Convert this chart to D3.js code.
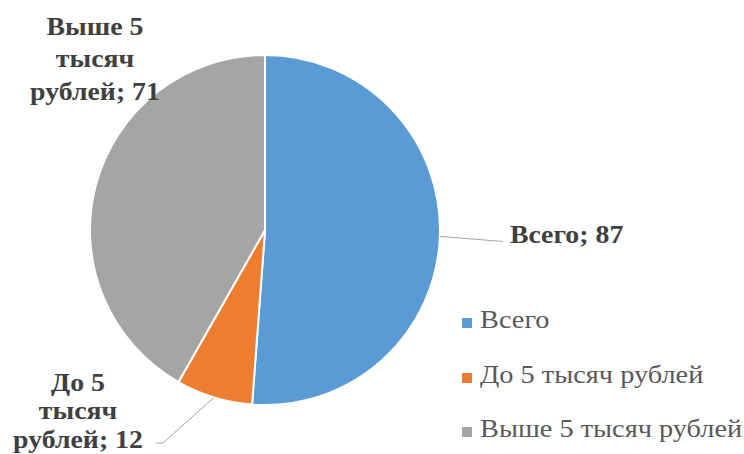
<!DOCTYPE html>
<html><head><meta charset="utf-8">
<script src="https://cdn.jsdelivr.net/npm/d3@7"></script>
<style>body{margin:0;background:#fff} text{font-family:"Liberation Serif","Times New Roman",serif;}</style>
</head><body>
<svg id="c" width="744" height="454"></svg>
<script>
const categories = ["Всего", "До 5 тысяч рублей", "Выше 5 тысяч рублей"];
const values = [87, 12, 71];
const colors = ["#5B9BD5", "#ED7D31", "#A5A5A5"];
const labelLines = [["Всего; 87"], ["До 5", "тысяч", "рублей; 12"], ["Выше 5", "тысяч", "рублей; 71"]];

const svg = d3.select("#c");
const cx = 265, cy = 230, r = 175;
const data = categories.map((c, i) => ({cat: c, value: values[i], color: colors[i], lines: labelLines[i]}));
const pie = d3.pie().sort(null).value(d => d.value);
const arcs = pie(data);
const arc = d3.arc().innerRadius(0).outerRadius(r);
const g = svg.append("g").attr("transform", `translate(${cx},${cy})`);
g.selectAll("path").data(arcs).join("path")
  .attr("d", arc).attr("fill", d => d.data.color)
  .attr("stroke", "#fff").attr("stroke-width", 2);

function edge(a) {
  const m = (a.startAngle + a.endAngle) / 2;
  return [cx + r * Math.sin(m), cy - r * Math.cos(m)];
}
const SX = 1.07;
const lab = svg.append("g").attr("font-weight", "bold").attr("font-size", 26).attr("fill", "#404040");

// Всего
{
  const p = edge(arcs[0]);
  svg.append("polyline").attr("points", `${p[0]},${p[1]} ${p[0]+63},${p[1]+5}`)
    .attr("fill", "none").attr("stroke", "#a6a6a6").attr("stroke-width", 1);
  lab.append("text").attr("transform", `translate(${p[0] + 70},${p[1] + 7}) scale(${SX},1)`)
    .text(arcs[0].data.lines[0]);
}
// До 5
{
  const p = edge(arcs[1]);
  svg.append("polyline").attr("points", `${p[0]},${p[1]} ${p[0]-51},443 ${p[0]-58},443`)
    .attr("fill", "none").attr("stroke", "#a6a6a6").attr("stroke-width", 1);
  const t = lab.append("text").attr("text-anchor", "middle")
    .attr("transform", `translate(78,391) scale(${SX},1)`);
  arcs[1].data.lines.forEach((l, i) => t.append("tspan").attr("x", 0).attr("y", i * 28.5).text(l));
}
// Выше 5
{
  const t = lab.append("text").attr("text-anchor", "middle")
    .attr("transform", `translate(95,35) scale(${SX},1)`);
  arcs[2].data.lines.forEach((l, i) => t.append("tspan").attr("x", 0).attr("y", i * 32.5).text(l));
}

// legend
const leg = svg.append("g").attr("font-size", 26).attr("fill", "#595959");
const ly = [328, 383, 437];
data.forEach((d, i) => {
  leg.append("rect").attr("x", 462).attr("y", ly[i] - 10).attr("width", 10).attr("height", 10).attr("fill", d.color);
  leg.append("text").attr("transform", `translate(480,${ly[i]}) scale(1.09,1)`).text(d.cat);
});
</script>
</body></html>
